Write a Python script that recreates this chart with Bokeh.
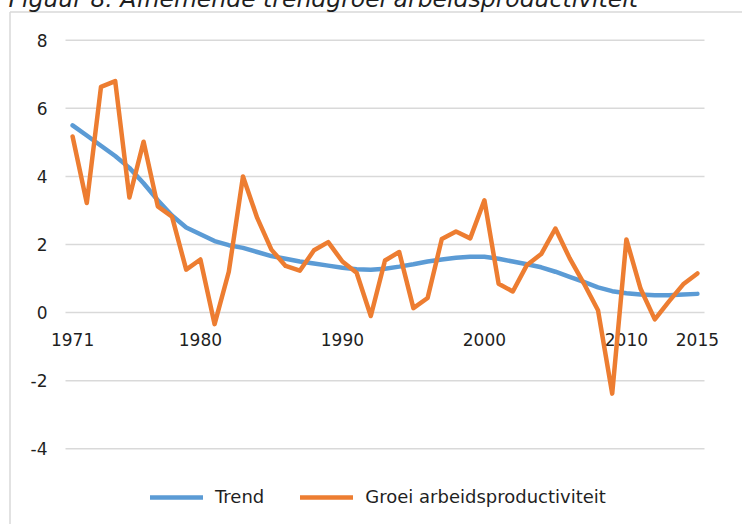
from bokeh.plotting import figure
from bokeh.models import ColumnDataSource, Legend, LegendItem, Range1d, Grid
from bokeh.core.properties import value
from bokeh.embed import file_html
from bokeh.resources import INLINE

# ---------------- data ----------------
title_text = "Figuur 8. Afnemende trendgroei arbeidsproductiviteit"
years = list(range(1971, 2016))
trend = [5.50, 5.20, 4.90, 4.60, 4.25, 3.80, 3.30, 2.85, 2.50, 2.30,
         2.10, 1.98, 1.90, 1.78, 1.66, 1.58, 1.50, 1.44, 1.38, 1.32,
         1.27, 1.26, 1.29, 1.35, 1.42, 1.50, 1.56, 1.61, 1.64, 1.64,
         1.58, 1.50, 1.42, 1.33, 1.20, 1.05, 0.90, 0.74, 0.63, 0.57,
         0.53, 0.51, 0.51, 0.53, 0.55]
groei = [5.17, 3.22, 6.63, 6.80, 3.38, 5.02, 3.12, 2.82, 1.26, 1.56,
         -0.34, 1.20, 4.00, 2.78, 1.85, 1.37, 1.23, 1.83, 2.07, 1.50,
         1.17, -0.10, 1.53, 1.78, 0.13, 0.43, 2.16, 2.38, 2.18, 3.30,
         0.85, 0.62, 1.40, 1.72, 2.47, 1.60, 0.86, 0.07, -2.38, 2.15,
         0.70, -0.20, 0.33, 0.83, 1.15]
xtick_years = [1971, 1980, 1990, 2000, 2010, 2015]
xtick_labels = ["1971", "1980", "1990", "2000", "2010", "2015"]
ytick_values = [-4, -2, 0, 2, 4, 6, 8]
ytick_labels = ["-4", "-2", "0", "2", "4", "6", "8"]
series_names = ["Trend", "Groei arbeidsproductiviteit"]
series_colors = ["#5B9BD5", "#ED7D31"]

# ---------------- layout constants (pixels) ----------------
FONT = "DejaVu Sans"
TXT = "#1f1f1f"
GRID = "#D9D9D9"
W, H = 742, 534          # canvas size
SHIFT = 10               # canvas is moved up by this many px
PPY = 14.2               # px per year
PPU = 34.05              # px per unit on the value axis
PLOT_LEFT_PX = 65        # page x of left edge of plot area
Y8_PX = 39.7             # page y of the value 8

cat_lo, cat_hi = years[0] - 0.5, years[-1] + 0.5
x_start = cat_lo - PLOT_LEFT_PX / PPY
x_end = x_start + W / PPY
y_end = ytick_values[-1] + (Y8_PX + SHIFT) / PPU
y_start = y_end - H / PPU

def px_to_x(px):
    return x_start + px / PPY

def px_to_y(py):
    return y_end - (py + SHIFT) / PPU

p = figure(width=W, height=H, toolbar_location=None, output_backend="svg",
           x_axis_location=None, y_axis_location=None,
           x_range=Range1d(x_start, x_end), y_range=Range1d(y_start, y_end),
           min_border=0, min_border_left=0, min_border_right=0,
           min_border_top=0, min_border_bottom=0,
           outline_line_color=None)
p.styles = {"margin-top": f"-{SHIFT}px"}
for r in list(p.center):
    if isinstance(r, Grid):
        r.visible = False

# chart-area frame (left + top edges)
p.segment(x0=[px_to_x(9.5), px_to_x(9.5)], y0=[px_to_y(11.5), px_to_y(11.5)],
          x1=[px_to_x(9.5), x_end], y1=[y_start, px_to_y(11.5)],
          line_color=GRID, line_width=1.5)

# title (only its lower part is visible, as in the original)
p.text(x=[px_to_x(8)], y=[px_to_y(-1.5)], text=[title_text],
       text_align="left", text_baseline="alphabetic",
       text_font=value(FONT), text_font_size="23.5px", text_font_style="italic",
       text_color=TXT)

# horizontal grid lines
p.segment(x0=[cat_lo] * len(ytick_values), x1=[cat_hi] * len(ytick_values),
          y0=ytick_values, y1=ytick_values, line_color=GRID, line_width=1.5)

# value-axis labels
p.text(x=[cat_lo] * len(ytick_values), y=ytick_values, text=ytick_labels,
       text_align="right", text_baseline="middle", x_offset=-18,
       text_font=value(FONT), text_font_size="17px", text_color=TXT)

# category labels sitting under the zero line
p.text(x=xtick_years, y=[0] * len(xtick_years), text=xtick_labels,
       text_align="center", text_baseline="alphabetic", y_offset=27,
       text_font=value(FONT), text_font_size="17px", text_color=TXT)

src = ColumnDataSource(dict(year=years, trend=trend, groei=groei))
r1 = p.line("year", "trend", source=src, line_color=series_colors[0], line_width=4.5,
            line_cap="round", line_join="round")
r2 = p.line("year", "groei", source=src, line_color=series_colors[1], line_width=4.5,
            line_cap="round", line_join="round")

legend = Legend(items=[LegendItem(label=series_names[0], renderers=[r1]),
                       LegendItem(label=series_names[1], renderers=[r2])],
                location=(150, 17), orientation="horizontal",
                glyph_width=53, glyph_height=20, label_standoff=12, spacing=36,
                padding=0, margin=0, border_line_color=None, background_fill_alpha=0,
                label_text_font=FONT, label_text_font_size="18px", label_text_color=TXT)
p.add_layout(legend, "center")

open("out.html", "w").write(file_html(p, INLINE))
